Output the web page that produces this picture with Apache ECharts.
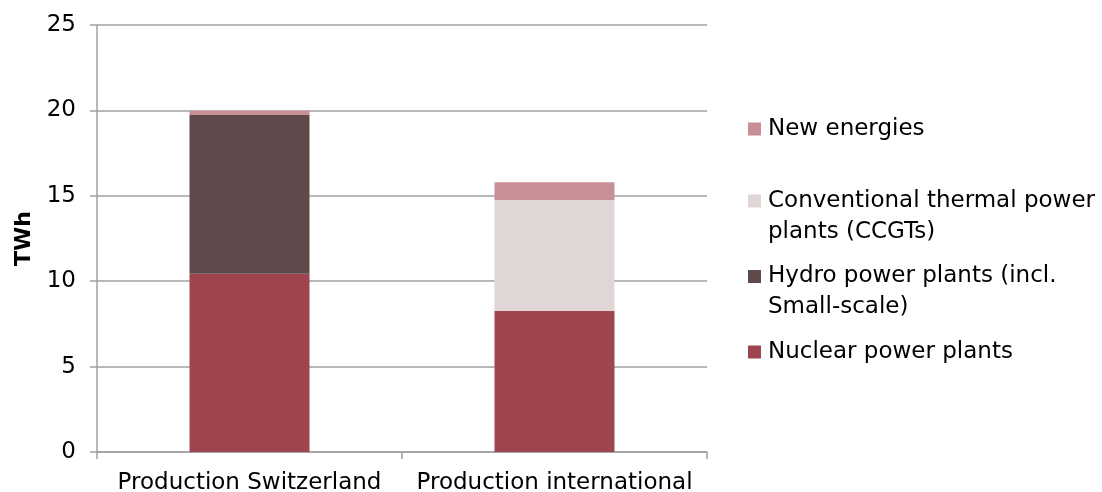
<!DOCTYPE html>
<html><head><meta charset="utf-8">
<script src="https://cdn.jsdelivr.net/npm/echarts@6/dist/echarts.min.js"></script>
<style>html,body{margin:0;padding:0;background:#fff}#c{width:1102px;height:492px}</style>
</head><body><div id="c"></div>
<script>
const categories = ['Production Switzerland', 'Production international'];
const nuclear = [10.43, 8.26];
const hydro = [9.3, 0];
const ccgt = [0, 6.5];
const newEnergies = [0.25, 1.04];
const yTicks = [0, 5, 10, 15, 20, 25];

const seriesNames = ['Nuclear power plants', 'Hydro power plants (incl.\nSmall-scale)', 'Conventional thermal power\nplants (CCGTs)', 'New energies'];
const colors = ['#9E4550', '#5E4A4B', '#E0D6D5', '#C88F97'];
const values = [nuclear, hydro, ccgt, newEnergies];

const font = '"DejaVu Sans", sans-serif';
const sq = 'path://M0,0 h13 v13 h-13 Z';
const sqTall = 'path://M0,0 h13 v13 h-13 Z M0,44 h0.01 v0.01 h-0.01 Z';

function legend(name, top, tall) {
  return {
    show: true, left: 748, top: top, orient: 'vertical', padding: 0,
    data: [{ name: name, icon: tall ? sqTall : sq }],
    itemWidth: 13, itemHeight: tall ? 44 : 13, itemGap: 0,
    textStyle: { fontFamily: font, fontSize: 23, color: '#000', lineHeight: 31, padding: [0, 0, 0, 2] },
    selectedMode: false
  };
}

const chart = echarts.init(document.getElementById('c'), null, { renderer: 'canvas' });
chart.setOption({
  animation: false,
  grid: { left: 97, right: 395, top: 25, bottom: 40, containLabel: false, outerBoundsMode: 'none' },
  legend: [
    legend(seriesNames[3], 113.5, false),
    legend(seriesNames[2], 185.5, true),
    legend(seriesNames[1], 261, true),
    legend(seriesNames[0], 336.5, false)
  ],
  xAxis: {
    type: 'category', data: categories,
    axisLine: { lineStyle: { color: '#A0A0A0', width: 1.5 } },
    axisTick: { show: true, interval: 0, length: 7, lineStyle: { color: '#A0A0A0', width: 1.5 } },
    axisLabel: { interval: 0, hideOverlap: false, fontFamily: font, fontSize: 23, color: '#000', margin: 20 }
  },
  yAxis: {
    type: 'value', min: 0, max: 25, interval: 5,
    name: 'TWh', nameLocation: 'middle', nameGap: 62, nameMoveOverlap: false,
    nameTextStyle: { fontFamily: font, fontSize: 22, fontWeight: 'bold', color: '#000' },
    axisLine: { show: true, lineStyle: { color: '#A0A0A0', width: 1.5 } },
    axisTick: { show: true, length: 7, lineStyle: { color: '#A0A0A0', width: 1.5 } },
    splitLine: { show: true, lineStyle: { color: '#A0A0A0', width: 1.5 } },
    axisLabel: { fontFamily: font, fontSize: 23, color: '#000', margin: 21,
      formatter: v => yTicks.includes(v) ? String(v) : '' }
  },
  series: values.map((v, i) => ({
    name: seriesNames[i], type: 'bar', stack: 'total', barWidth: 120,
    data: v, itemStyle: { color: colors[i] }
  }))
});
</script></body></html>
